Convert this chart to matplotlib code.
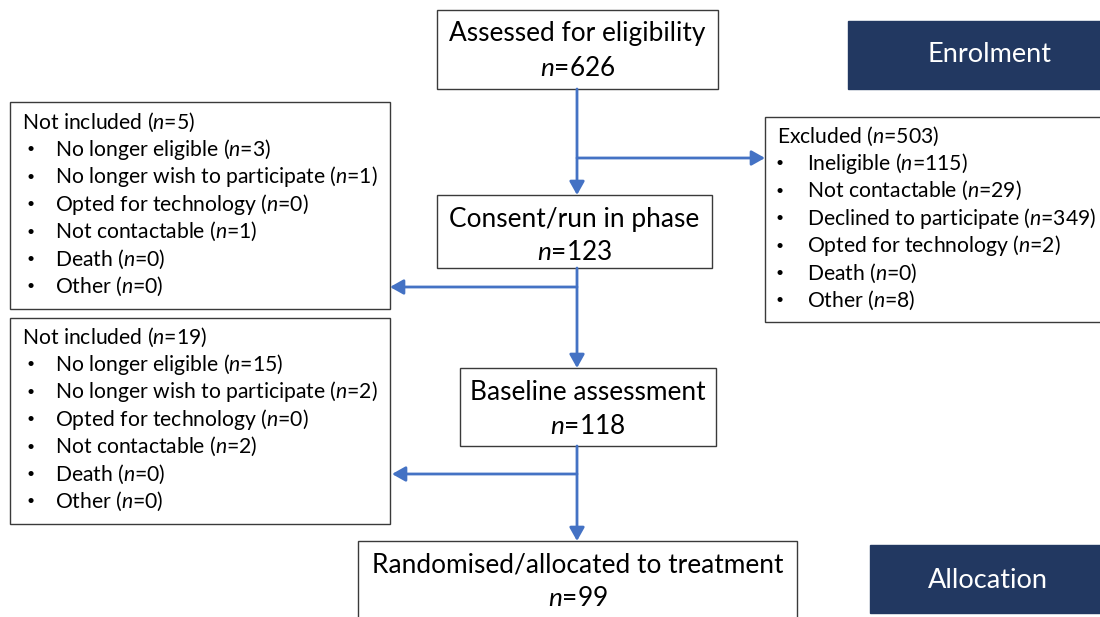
import matplotlib
matplotlib.use("Agg")
import matplotlib.pyplot as plt
from matplotlib.patches import Rectangle

plt.rcParams['font.family'] = 'Lato'
plt.rcParams['mathtext.fontset'] = 'custom'
plt.rcParams['mathtext.rm'] = 'Lato'
plt.rcParams['mathtext.it'] = 'Lato:italic'

# flow stages and counts
stages = ["Assessed for eligibility", "Consent/run in phase",
          "Baseline assessment", "Randomised/allocated to treatment"]
stage_n = [626, 123, 118, 99]

# excluded at screening
excluded_reasons = ["Ineligible", "Not contactable", "Declined to participate",
                    "Opted for technology", "Death", "Other"]
excluded_n = [115, 29, 349, 2, 0, 8]

# not included after run-in / after baseline
drop_reasons = ["No longer eligible", "No longer wish to participate",
                "Opted for technology", "Not contactable", "Death", "Other"]
drop_run_in = [3, 1, 0, 1, 0, 0]
drop_baseline = [15, 2, 0, 2, 0, 0]

phases = ["Enrolment", "Allocation"]

BLUE = "#4472C4"
NAVY = "#223861"
EDGE = "#3a3a3a"
BIG = 18.9
SMALL = 15.2

fig = plt.figure(figsize=(11, 6.17), dpi=100)
ax = fig.add_axes([0, 0, 1, 1])
ax.set_xlim(0, 1100)
ax.set_ylim(617, 0)
ax.axis('off')


def nlab(v):
    return "$n$=%d" % v


def box(x0, y0, x1, y1, fc="white", ec=EDGE):
    ax.add_patch(Rectangle((x0, y0), x1 - x0, y1 - y0, fc=fc, ec=ec, lw=1.0, zorder=2))


def arrow(x0, y0, x1, y1):
    ax.annotate("", xy=(x1, y1), xytext=(x0, y0),
                arrowprops=dict(arrowstyle="-|>,head_length=0.8,head_width=0.45",
                                color=BLUE, lw=2.0, shrinkA=0, shrinkB=0), zorder=3)


# main stage boxes
stage_boxes = [(437, 10, 718, 89), (437, 195, 712, 268),
               (460, 368, 716, 446), (358, 541, 797, 630)]
for (x0, y0, x1, y1), name, v in zip(stage_boxes, stages, stage_n):
    box(x0, y0, x1, y1)
    cx = (x0 + x1) / 2
    ax.text(cx, y0 + 24, name, ha='center', va='center', fontsize=BIG, zorder=4)
    ax.text(cx, y0 + 58, nlab(v), ha='center', va='center', fontsize=BIG, zorder=4)

# connectors
mx = 577
arrow(mx, 89, mx, 195)
arrow(mx, 268, mx, 368)
arrow(mx, 446, mx, 541)
arrow(mx, 158, 765, 158)
arrow(mx, 287, 390, 287)
arrow(mx, 474, 392, 474)


def listbox(x0, y0, x1, y1, title, reasons, counts, tx, bx, lx, ty):
    box(x0, y0, x1, y1)
    ax.text(tx, ty, "%s (%s)" % (title, nlab(sum(counts))), ha='left', va='center',
            fontsize=SMALL, zorder=4)
    for i, (r, c) in enumerate(zip(reasons, counts)):
        y = ty + 27.4 * (i + 1)
        ax.text(bx, y, "\u2022", ha='center', va='center', fontsize=10, zorder=4)
        ax.text(lx, y, "%s (%s)" % (r, nlab(c)), ha='left', va='center',
                fontsize=SMALL, zorder=4)


listbox(10, 102, 390, 309, "Not included", drop_reasons, drop_run_in, 22, 31, 55, 122)
listbox(10, 318, 390, 524, "Not included", drop_reasons, drop_baseline, 22, 31, 55, 337)
listbox(765, 117, 1110, 322, "Excluded", excluded_reasons, excluded_n, 777, 780, 807, 136)

# phase labels
box(848, 21, 1110, 89, fc=NAVY, ec=NAVY)
ax.text(989, 55, phases[0], ha='center', va='center', fontsize=19.5, color='white', zorder=4)
box(870, 545, 1110, 613, fc=NAVY, ec=NAVY)
ax.text(988, 581, phases[1], ha='center', va='center', fontsize=19.5, color='white', zorder=4)

fig.savefig("out.png", dpi=100)
